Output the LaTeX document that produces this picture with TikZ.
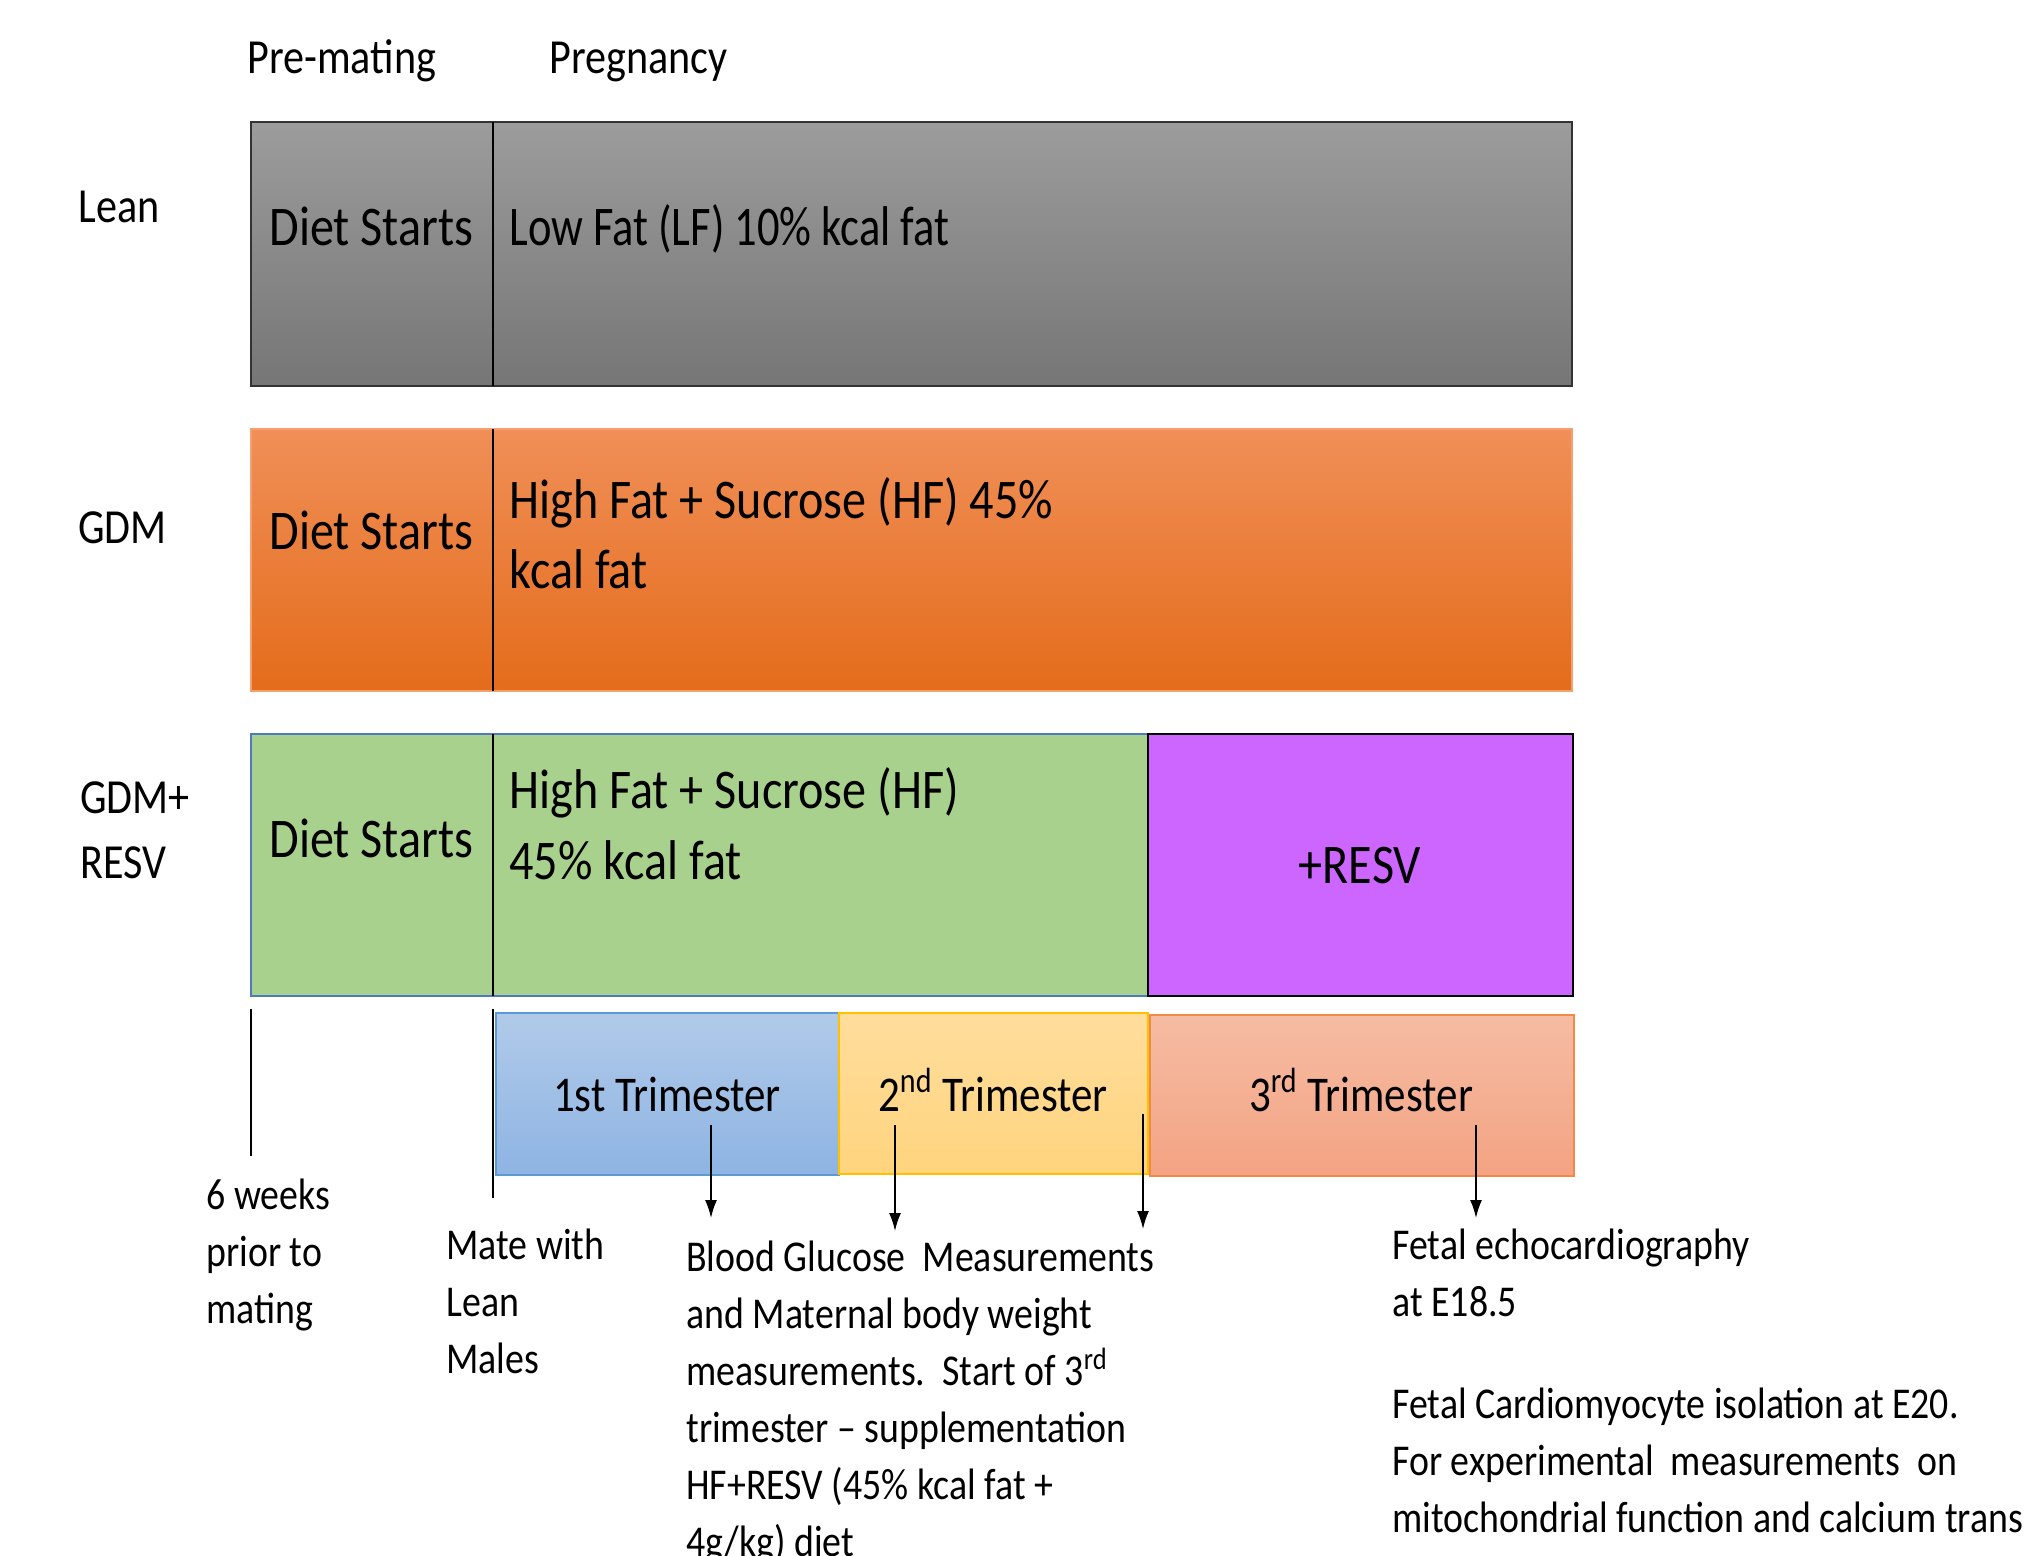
\documentclass[tikz,border=0pt]{standalone}
\usepackage{fontspec}
\setmainfont{Carlito}[FakeStretch=0.86]
\newfontfamily\narrowfont{Carlito}[FakeStretch=0.795]
\usetikzlibrary{arrows.meta}
\definecolor{leanTop}{HTML}{9C9C9C}
\definecolor{leanBot}{HTML}{767676}
\definecolor{gdmTop}{HTML}{F08F58}
\definecolor{gdmBot}{HTML}{E46C1B}
\definecolor{gdmLine}{HTML}{F4A070}
\definecolor{resvGreen}{HTML}{A9D18E}
\definecolor{greenLine}{HTML}{4F7AC0}
\definecolor{resvPurple}{HTML}{CC66FF}
\definecolor{tOneTop}{HTML}{B1CAE9}
\definecolor{tOneBot}{HTML}{8EB4E3}
\definecolor{tOneLine}{HTML}{5B9BD5}
\definecolor{tTwoTop}{HTML}{FFDD9C}
\definecolor{tTwoBot}{HTML}{FFD47E}
\definecolor{tTwoLine}{HTML}{FFC000}
\definecolor{tThreeTop}{HTML}{F5BCA3}
\definecolor{tThreeBot}{HTML}{F4A383}
\definecolor{tThreeLine}{HTML}{F08A48}
\tikzset{
  boxtxt/.style={font=\fontsize{28}{35.5}\selectfont, inner sep=0, anchor=base west},
  lbltxt/.style={font=\fontsize{24.5}{32.5}\selectfont, inner sep=0, anchor=base west},
  triltxt/.style={font=\fontsize{25}{30}\selectfont, inner sep=0, anchor=base},
  notetxt/.style={font=\fontsize{22}{28.5}\selectfont, inner sep=0, anchor=base west},
  divider/.style={line width=1pt, black},
  tick/.style={line width=0.8pt, black},
  pointer/.style={line width=0.8pt, black, -{Latex[length=9pt,width=6pt]}},
}
\begin{document}
\begin{tikzpicture}[x=0.5pt,y=-0.5pt]
\useasboundingbox[fill=white] (0,0) rectangle (2030,1556);

% header labels
\node[lbltxt] (pre) at (247,74) {Pre-mating};
\node[lbltxt] (preg) at (549,74) {Pregnancy};

% Lean row
\draw[top color=leanTop, bottom color=leanBot, draw=black!80, line width=1.2pt] (251,122) rectangle (1572,386);
\draw[divider] (493,122) -- (493,386);
\node[lbltxt] (lean) at (78,223) {Lean};
\node[boxtxt] (leanDiet) at (269,246) {Diet Starts};
\node[boxtxt] (leanLF) at (509,246) {\narrowfont Low Fat (LF) 10\% kcal fat};

% GDM row
\draw[top color=gdmTop, bottom color=gdmBot, draw=gdmLine, line width=1pt] (251,429) rectangle (1572,691);
\draw[divider] (493,429) -- (493,691);
\node[lbltxt] (gdm) at (78,544) {GDM};
\node[boxtxt] (gdmDiet) at (269,550) {Diet Starts};
\node[boxtxt] (gdmHF) at (509,518) {\vtop{\hbox{High Fat + Sucrose (HF) 45\%}\hbox{kcal fat}}};

% GDM+RESV row
\draw[fill=resvGreen, draw=greenLine, line width=1pt] (251,734) rectangle (1148,996);
\draw[fill=resvPurple, draw=black, line width=1.3pt] (1148,734) rectangle (1573,996);
\draw[divider] (493,734) -- (493,996);
\node[lbltxt] (gdmr) at (80,813) {\vtop{\hbox{GDM+}\hbox{RESV}}};
\node[boxtxt] (grDiet) at (269,857) {Diet Starts};
\node[boxtxt] (grHF) at (509,808) {\vtop{\hbox{High Fat + Sucrose (HF)}\hbox{45\% kcal fat}}};
\node[boxtxt, anchor=base] (resv) at (1360,883) {+RESV};

% trimesters
\draw[top color=tOneTop, bottom color=tOneBot, draw=tOneLine, line width=1pt] (496,1013) rectangle (839,1175);
\draw[top color=tTwoTop, bottom color=tTwoBot, draw=tTwoLine, line width=1pt] (839,1013) rectangle (1148,1174);
\draw[top color=tThreeTop, bottom color=tThreeBot, draw=tThreeLine, line width=1pt] (1150,1015) rectangle (1574,1176);
\node[triltxt] (t1) at (667,1111) {1st Trimester};
\node[triltxt] (t2) at (993,1111) {2\textsuperscript{nd} Trimester};
\node[triltxt] (t3) at (1361,1111) {3\textsuperscript{rd} Trimester};

% ticks
\draw[tick] (251,1009) -- (251,1156);
\draw[tick] (493,1009) -- (493,1198);

% notes
\node[notetxt] (weeks) at (206,1209) {\vtop{\hbox{6 weeks}\hbox{prior to}\hbox{mating}}};
\node[notetxt] (mate) at (446,1259) {\vtop{\hbox{Mate with}\hbox{Lean}\hbox{Males}}};
\node[notetxt] (blood) at (686,1271) {\vtop{\hbox{Blood Glucose\ \ Measurements}\hbox{and Maternal body weight}\hbox{measurements.\ \ Start of 3\textsuperscript{rd}}\hbox{trimester -- supplementation}\hbox{HF+RESV (45\% kcal fat +}\hbox{4g/kg) diet}}};
\node[notetxt] (echo) at (1392,1259) {\vtop{\hbox{Fetal echocardiography}\hbox{at E18.5}}};
\node[notetxt] (cardio) at (1392,1418) {\vtop{\hbox{Fetal Cardiomyocyte isolation at E20.}\hbox{For experimental\ \ measurements\ \ on}\hbox{mitochondrial function and calcium trans}}};

% pointers
\coordinate (a1s) at (711,1125); \coordinate (a1e) at (711,1218);
\coordinate (a2s) at (895,1125); \coordinate (a2e) at (895,1231);
\coordinate (a3s) at (1143,1114); \coordinate (a3e) at (1143,1229);
\coordinate (a4s) at (1476,1125); \coordinate (a4e) at (1476,1218);
\draw[pointer] (a1s) -- (a1e);
\draw[pointer] (a2s) -- (a2e);
\draw[pointer] (a3s) -- (a3e);
\draw[pointer] (a4s) -- (a4e);
\end{tikzpicture}
\end{document}
